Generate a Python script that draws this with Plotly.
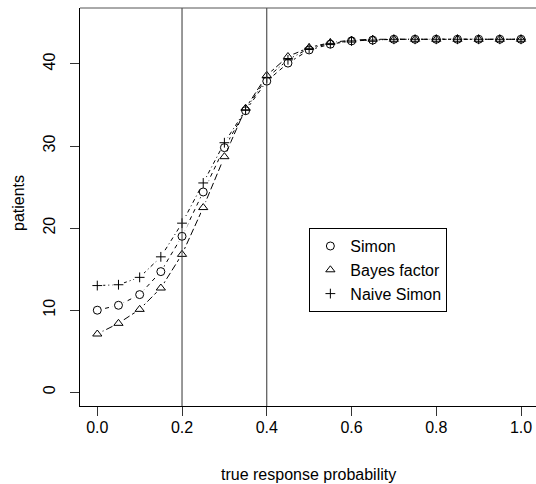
import plotly.graph_objects as go

# data
resp_prob = [0.0, 0.05, 0.1, 0.15, 0.2, 0.25, 0.3, 0.35, 0.4, 0.45, 0.5,
             0.55, 0.6, 0.65, 0.7, 0.75, 0.8, 0.85, 0.9, 0.95, 1.0]
simon = [10.0, 10.6, 11.9, 14.7, 19.0, 24.4, 29.8, 34.3, 37.9, 40.1, 41.7,
         42.4, 42.8, 42.9, 43.0, 43.0, 43.0, 43.0, 43.0, 43.0, 43.0]
bayes = [7.1, 8.4, 10.1, 12.7, 16.8, 22.5, 28.7, 34.6, 38.6, 40.9, 42.0,
         42.6, 42.9, 43.0, 43.0, 43.0, 43.0, 43.0, 43.0, 43.0, 43.0]
naive = [13.0, 13.1, 14.0, 16.5, 20.6, 25.5, 30.4, 34.4, 38.3, 40.5, 41.9,
         42.5, 42.8, 42.9, 43.0, 43.0, 43.0, 43.0, 43.0, 43.0, 43.0]
series_names = ["Simon", "Bayes factor", "Naive Simon"]
vlines = [0.2, 0.4]
x_ticks = [0.0, 0.2, 0.4, 0.6, 0.8, 1.0]
x_ticklabels = ["0.0", "0.2", "0.4", "0.6", "0.8", "1.0"]
y_ticks = [0, 10, 20, 30, 40]

FONT = "Liberation Sans, Arial, sans-serif"
FS = 16

styles = [
    dict(symbol="circle-open", size=8, dash="4px,4px"),
    dict(symbol="triangle-up-open", size=8, dash="7px,3px"),
    dict(symbol="cross-thin-open", size=7, dash="1px,3px,4px,3px"),
]
all_series = [simon, bayes, naive]

fig = go.Figure()
# lines with gaps around their own points (like R type="b")
for vals, st in zip(all_series, styles):
    fig.add_trace(go.Scatter(
        x=resp_prob, y=vals, mode="lines", showlegend=False, hoverinfo="skip",
        line=dict(color="black", width=1, dash=st["dash"]),
    ))
    fig.add_trace(go.Scatter(
        x=resp_prob, y=vals, mode="markers", showlegend=False, hoverinfo="skip",
        marker=dict(symbol="circle", size=12, color="white",
                    line=dict(width=0)),
    ))
# point symbols
for name, vals, st in zip(series_names, all_series, styles):
    fig.add_trace(go.Scatter(
        x=resp_prob, y=vals, mode="markers", name=name, showlegend=False,
        marker=dict(symbol=st["symbol"], size=st["size"], color="black",
                    line=dict(color="black", width=1)),
    ))
# legend entries (symbols only, like R's legend with pch)
for name, st in zip(series_names, styles):
    fig.add_trace(go.Scatter(
        x=[None], y=[None], mode="markers", name=name,
        marker=dict(symbol=st["symbol"], size=st["size"], color="black",
                    line=dict(color="black", width=1)),
    ))

for v in vlines:
    fig.add_shape(type="line", xref="x", yref="paper", x0=v, x1=v, y0=0, y1=1,
                  line=dict(color="#333333", width=1))
# top frame line
fig.add_shape(type="line", xref="paper", yref="paper", x0=0, x1=1, y0=1, y1=1,
              line=dict(color="#555555", width=1))

fig.update_layout(
    width=536, height=484,
    margin=dict(l=80, r=0, t=8, b=78),
    paper_bgcolor="white", plot_bgcolor="white",
    font=dict(family=FONT, size=FS, color="black"),
    showlegend=True,
    legend=dict(x=0.503, y=0.447, xanchor="left", yanchor="top",
                bgcolor="white", bordercolor="black", borderwidth=1,
                font=dict(family=FONT, size=FS, color="black")),
    xaxis=dict(range=[-0.0408, 1.0354], tickvals=x_ticks, ticktext=x_ticklabels,
               ticks="outside", ticklen=9, tickcolor="#333", showline=True,
               linecolor="black", linewidth=1, showgrid=False, zeroline=False,
               ticklabelstandoff=-2, tickfont=dict(family=FONT, size=FS)),
    yaxis=dict(range=[-1.67, 46.81], tickvals=y_ticks, ticks="outside", ticklen=9,
               tickcolor="#333", showline=True, linecolor="black", linewidth=1,
               showgrid=False, zeroline=False, tickangle=-90,
               ticklabelstandoff=9, tickfont=dict(family=FONT, size=FS)),
    annotations=[
        dict(text="true response probability", xref="paper", yref="paper",
             x=0.5, y=0, xanchor="center", yanchor="middle", yshift=-68,
             showarrow=False, font=dict(family=FONT, size=FS)),
        dict(text="patients", xref="paper", yref="paper", x=0, y=0.5,
             xanchor="center", yanchor="middle", xshift=-62, yshift=4,
             textangle=-90, showarrow=False, font=dict(family=FONT, size=FS)),
    ],
)

fig.write_html("out.html")
